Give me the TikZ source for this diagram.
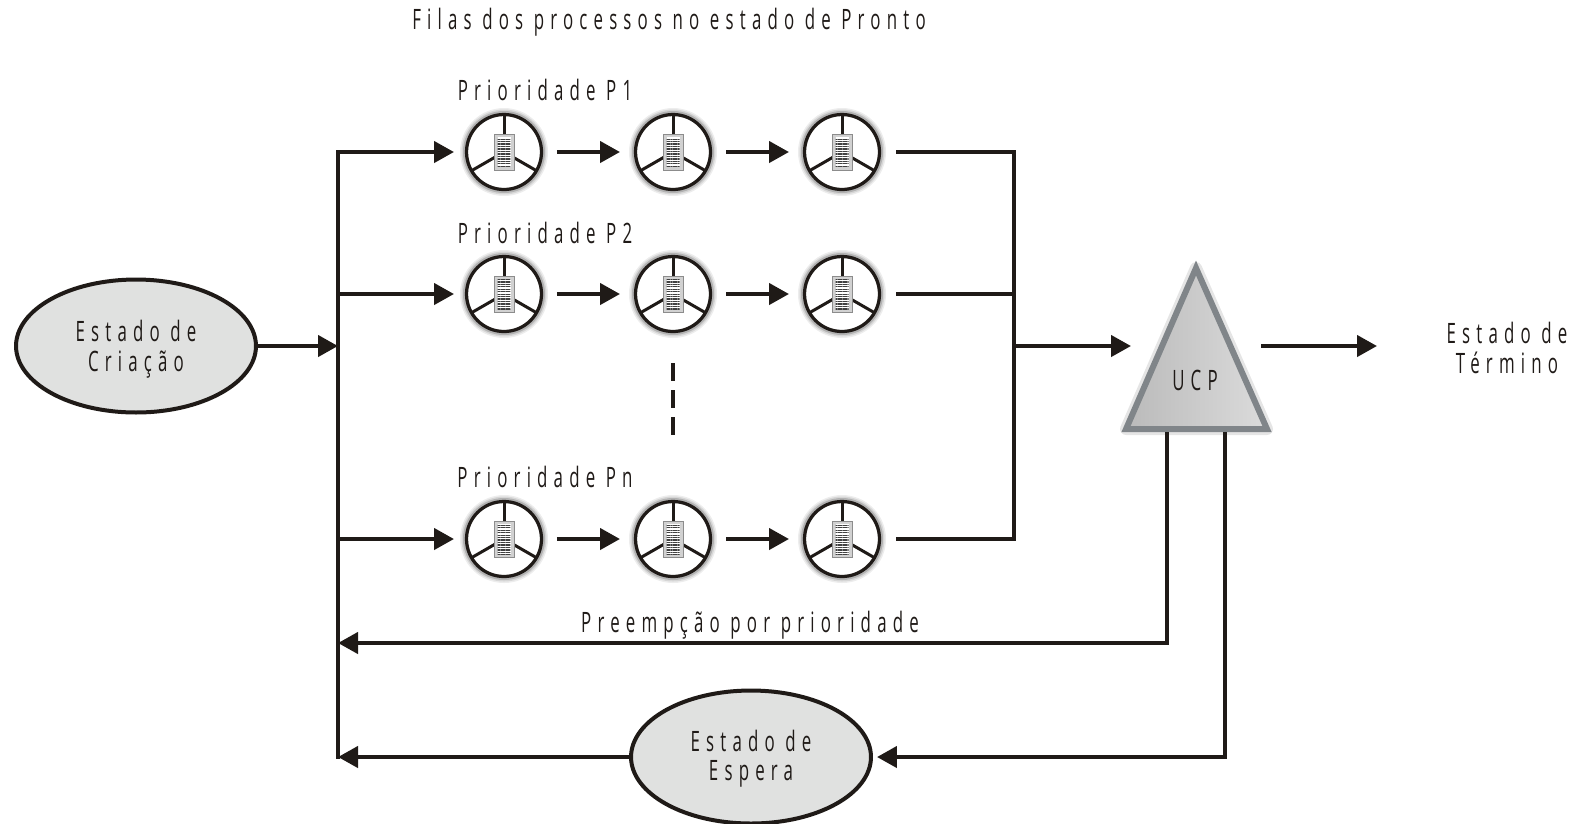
\documentclass[tikz,border=0pt]{standalone}
\usepackage{fontspec}
\setmainfont[FakeStretch=0.6,LetterSpace=22]{Open Sans}
\usetikzlibrary{shapes.geometric, arrows.meta, patterns.meta}
\definecolor{inkblack}{RGB}{31, 26, 23}
\definecolor{stategray}{RGB}{224, 225, 224}
\definecolor{ucpedge}{RGB}{128, 133, 137}
\tikzset{
  stateoval/.style={ellipse, draw=inkblack, fill=stategray, line width=0.08cm, minimum width=4.8cm, minimum height=2.66cm, inner sep=0pt, align=center, font=\fontsize{16}{17}\selectfont, text=inkblack},
  procwheel/.style={circle, draw=inkblack, fill=white, line width=0.065cm, minimum size=1.5cm, inner sep=0pt, outer sep=0.03cm,
    preaction={draw=black!7, line width=0.26cm},
    preaction={draw=black!16, line width=0.2cm},
    preaction={draw=black!30, line width=0.14cm},
    path picture={
      \begin{scope}[shift={(path picture bounding box.center)}]
        \draw[inkblack, line width=0.06cm] (0,0) -- (0,-39);
        \draw[inkblack, line width=0.06cm] (0,0) -- (33,19);
        \draw[inkblack, line width=0.06cm] (0,0) -- (-33,19);
        \draw[black!45, fill=black!18, line width=0.02cm] (-10,-18) rectangle (10,18);
        \fill[white] (-6.5,-15) rectangle (6.5,15);
        \fill[pattern={Lines[angle=0, distance=1.4pt, line width=0.75pt]}, pattern color=black!75] (-6.5,-15) rectangle (6.5,15);
      \end{scope}
    }},
  flowline/.style={inkblack, line width=0.085cm},
  flowarrow/.style={flowline, -{Triangle[length=0.4cm, width=0.42cm]}},
  stepgap/.style={flowarrow, shorten <=0.28cm, shorten >=0.28cm},
  infeed/.style={flowarrow, shorten >=0.22cm},
  outfeed/.style={flowline, shorten <=0.3cm},
  caption/.style={font=\fontsize{16}{17}\selectfont, text=inkblack, inner sep=0pt, align=center}
}

\begin{document}
\begin{tikzpicture}[x=0.02cm, y=-0.02cm]
  \useasboundingbox (0,0) rectangle (1581,823);

  % Titles
  \node[caption] (titulo) at (669, 22) {Filas dos processos no estado de Pronto};
  \node[caption] (labelp1) at (545, 90) {Prioridade P1};
  \node[caption] (labelp2) at (545, 233) {Prioridade P2};
  \node[caption] (labelpn) at (545, 477) {Prioridade Pn};

  % States
  \node[stateoval] (criacao) at (136, 346) {\rule{0pt}{16pt}Estado de\\Criação};
  \node[stateoval] (espera) at (751, 757) {\rule{0pt}{14pt}Estado de\\Espera};
  \node[caption] (termino) at (1507, 348) {Estado de\\Término};

  % Priority P1
  \node[procwheel] (p1a) at (504, 152) {};
  \node[procwheel] (p1b) at (673, 152) {};
  \node[procwheel] (p1c) at (842, 152) {};

  % Priority P2
  \node[procwheel] (p2a) at (504, 294) {};
  \node[procwheel] (p2b) at (673, 294) {};
  \node[procwheel] (p2c) at (842, 294) {};

  % Priority Pn
  \node[procwheel] (pna) at (504, 539) {};
  \node[procwheel] (pnb) at (673, 539) {};
  \node[procwheel] (pnc) at (842, 539) {};

  % Row gap
  \coordinate (gaptop) at (673, 363);
  \coordinate (gapbot) at (673, 436);
  \draw[flowline, dash pattern=on 0.36cm off 0.18cm] (gaptop) -- (gapbot);

  % Left bus
  \coordinate (bustop) at (338, 152);
  \coordinate (busp2) at (338, 294);
  \coordinate (busin) at (338, 346);
  \coordinate (buspn) at (338, 539);
  \coordinate (buspre) at (338, 643);
  \coordinate (busbot) at (338, 757);
  \draw[flowline] (338, 150) -- (338, 759);
  \draw[infeed] (bustop) -- (p1a);
  \draw[infeed] (busp2) -- (p2a);
  \draw[infeed] (buspn) -- (pna);
  \draw[flowarrow] (criacao) -- (busin);

  % Steps along the rows
  \draw[stepgap] (p1a) -- (p1b);
  \draw[stepgap] (p1b) -- (p1c);
  \draw[stepgap] (p2a) -- (p2b);
  \draw[stepgap] (p2b) -- (p2c);
  \draw[stepgap] (pna) -- (pnb);
  \draw[stepgap] (pnb) -- (pnc);

  % Right bus
  \coordinate (rbustop) at (1014, 152);
  \coordinate (rbusp2) at (1014, 294);
  \coordinate (rbusout) at (1014, 346);
  \coordinate (rbuspn) at (1014, 539);
  \draw[flowline] (1014, 150) -- (1014, 541);
  \draw[outfeed] (p1c) -- (rbustop);
  \draw[outfeed] (p2c) -- (rbusp2);
  \draw[outfeed] (pnc) -- (rbuspn);

  % UCP
  \coordinate (ucptop) at (1196, 268);
  \coordinate (ucpleft) at (1126, 429);
  \coordinate (ucpright) at (1267, 429);
  \draw[black!10, line width=0.24cm, line join=round] (ucptop) -- (ucpright) -- (ucpleft) -- cycle;
  \draw[ucpedge, line width=0.12cm, left color=black!27, right color=black!14] (ucptop) -- (ucpright) -- (ucpleft) -- cycle;
  \node[caption] (ucp) at (1195, 380) {UCP};

  \coordinate (ucpin) at (1131, 346);
  \coordinate (ucpout) at (1261, 346);
  \coordinate (fimout) at (1377, 346);
  \draw[flowarrow] (rbusout) -- (ucpin);
  \draw[flowarrow] (ucpout) -- (fimout);

  % Return paths
  \coordinate (ucppre) at (1167, 432);
  \coordinate (ucpesp) at (1225, 432);
  \draw[flowarrow] (ucppre) |- (buspre);
  \draw[flowarrow, shorten >=0.08cm] (ucpesp) |- (espera);
  \draw[flowarrow] (espera) -- (busbot);
  \node[caption] (preemp) at (750, 625) {Preempção por prioridade};
\end{tikzpicture}
\end{document}
